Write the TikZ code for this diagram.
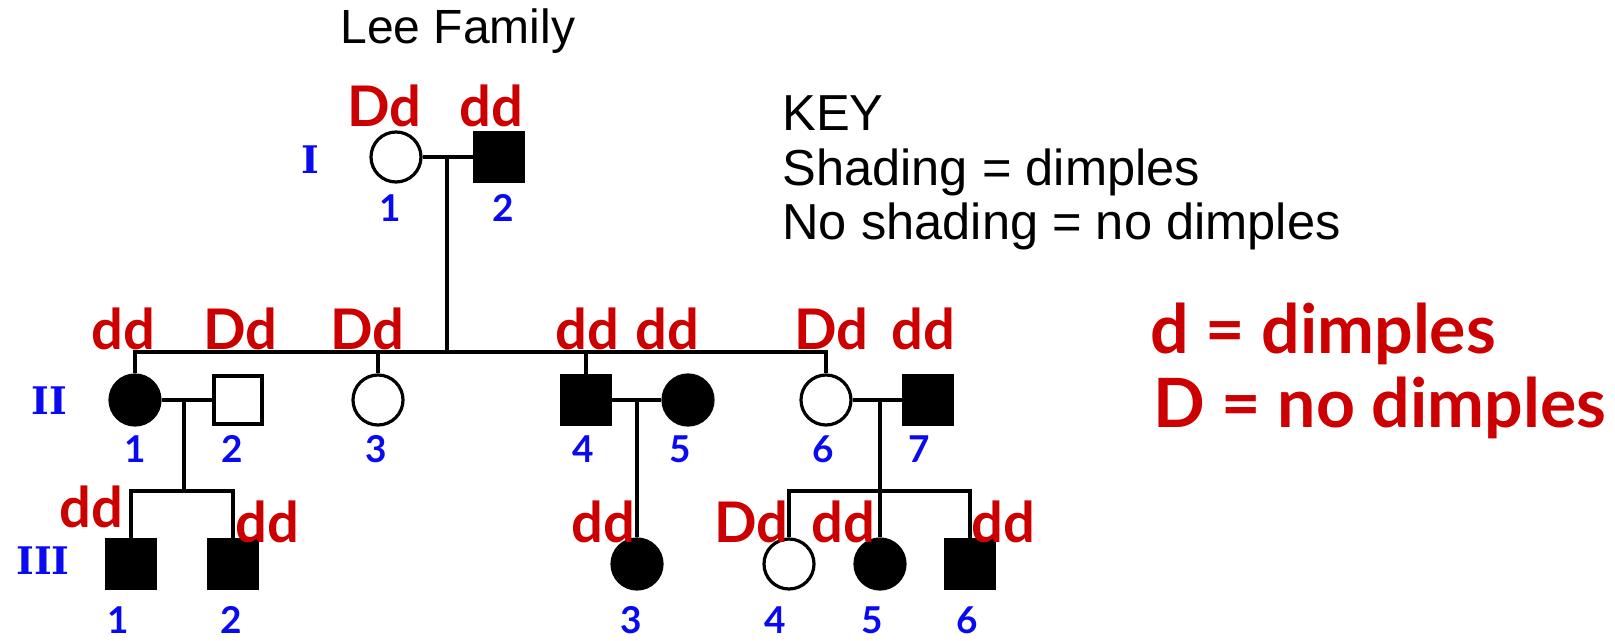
\documentclass[tikz,border=0pt]{standalone}
\usepackage{fontspec}
\setmainfont{Liberation Sans}
\newfontfamily\genofont{Lato}
\newfontfamily\romfont{DejaVu Serif}
\definecolor{genored}{HTML}{CC0000}
\definecolor{numblue}{HTML}{0A0AF0}

\begin{document}
\begin{tikzpicture}[x=0.5pt,y=-0.5pt,
  link/.style={line width=1.6pt},
  female/.style={circle,draw,line width=1.6pt,minimum size=25pt,inner sep=0pt,fill=white},
  male/.style={rectangle,draw,line width=1.6pt,minimum size=24pt,inner sep=0pt,fill=white},
  aff/.style={fill=black},
  geno/.style={text=genored,font=\genofont\bfseries\fontsize{28}{28}\selectfont,anchor=base,inner sep=0pt},
  num/.style={text=numblue,font=\genofont\bfseries\fontsize{18.5}{18.5}\selectfont,anchor=base,inner sep=0pt},
  gen/.style={text=numblue,font=\romfont\bfseries\fontsize{19}{19}\selectfont,anchor=base,inner sep=0pt},
  keytext/.style={font=\fontsize{25.3}{25.3}\selectfont,anchor=base west,inner sep=0pt},
  legend/.style={text=genored,font=\genofont\bfseries\fontsize{34}{34}\selectfont,anchor=base west,inner sep=0pt}]
\useasboundingbox (0,0) rectangle (1615,641);

% title and key
\node[keytext,font=\fontsize{24}{24}\selectfont] (title) at (340,44) {Lee Family};
\node[keytext] (key) at (782,131) {KEY};
\node[keytext] (key1) at (782,186) {Shading = dimples};
\node[keytext] (key2) at (782,240) {No shading = no dimples};
\node[legend] (legd) at (1150,353) {d = dimples};
\node[legend] (legD) at (1153,427) {D = no dimples};

% generation I
\node[female] (I1) at (396,157) {};
\node[male,aff] (I2) at (499,157) {};
% generation II
\node[female,aff] (II1) at (135,400) {};
\node[male] (II2) at (238,400) {};
\node[female] (II3) at (378,400) {};
\node[male,aff] (II4) at (586,400) {};
\node[female,aff] (II5) at (688,400) {};
\node[female] (II6) at (826,400) {};
\node[male,aff] (II7) at (928,400) {};
% generation III
\node[male,aff] (III1) at (131,564) {};
\node[male,aff] (III2) at (233,564) {};
\node[female,aff] (III3) at (637,564) {};
\node[female] (III4) at (789,564) {};
\node[female,aff] (III5) at (880,564) {};
\node[male,aff] (III6) at (970,564) {};

% lines of descent
\coordinate (mI) at (447,157);
\coordinate (sibII) at (447,352);
\draw[link] (I1) -- (I2);
\draw[link] (mI) -- (sibII);
\draw[link] (II1.north) -- (II1.north |- sibII) -- (II6.north |- sibII) -- (II6.north);
\draw[link] (II3.north) -- (II3.north |- sibII);
\draw[link] (II4.north) -- (II4.north |- sibII);

\coordinate (mA) at (184,400);
\coordinate (sibA) at (184,491);
\draw[link] (II1) -- (II2);
\draw[link] (mA) -- (sibA);
\draw[link] (III1.north) -- (III1.north |- sibA) -- (III2.north |- sibA) -- (III2.north);

\coordinate (mB) at (637,400);
\draw[link] (II4) -- (II5);
\draw[link] (mB) -- (III3.north);

\coordinate (mC) at (880,400);
\coordinate (sibC) at (880,491);
\draw[link] (II6) -- (II7);
\draw[link] (mC) -- (III5.north);
\draw[link] (III4.north) -- (III4.north |- sibC) -- (III6.north |- sibC) -- (III6.north);

% genotypes
\node[geno] (gI1) at (384,127) {Dd};
\node[geno] (gI2) at (491,127) {dd};
\node[geno] (gII1) at (123,350) {dd};
\node[geno] (gII2) at (240,350) {Dd};
\node[geno] (gII3) at (367,350) {Dd};
\node[geno] (gII4) at (587,350) {dd};
\node[geno] (gII5) at (667,350) {dd};
\node[geno] (gII6) at (831,350) {Dd};
\node[geno] (gII7) at (923,350) {dd};
\node[geno] (gIII1) at (91,527) {dd};
\node[geno] (gIII2) at (267,542) {dd};
\node[geno] (gIII3) at (603,542) {dd};
\node[geno] (gIII4) at (751,542) {Dd};
\node[geno] (gIII5) at (843,542) {dd};
\node[geno] (gIII6) at (1003,542) {dd};

% generation and individual numbers
\node[gen] (rI) at (310,174) {I};
\node[gen] (rII) at (49,414) {II};
\node[gen] (rIII) at (43,574) {III};
\node[num] (nI1) at (390,222) {1};
\node[num] (nI2) at (503,222) {2};
\node[num] (nII1) at (135,462) {1};
\node[num] (nII2) at (232,462) {2};
\node[num] (nII3) at (376,462) {3};
\node[num] (nII4) at (583,462) {4};
\node[num] (nII5) at (680,462) {5};
\node[num] (nII6) at (823,462) {6};
\node[num] (nII7) at (919,462) {7};
\node[num] (nIII1) at (118,633) {1};
\node[num] (nIII2) at (231,633) {2};
\node[num] (nIII3) at (631,633) {3};
\node[num] (nIII4) at (775,633) {4};
\node[num] (nIII5) at (872,633) {5};
\node[num] (nIII6) at (967,633) {6};
\end{tikzpicture}
\end{document}
